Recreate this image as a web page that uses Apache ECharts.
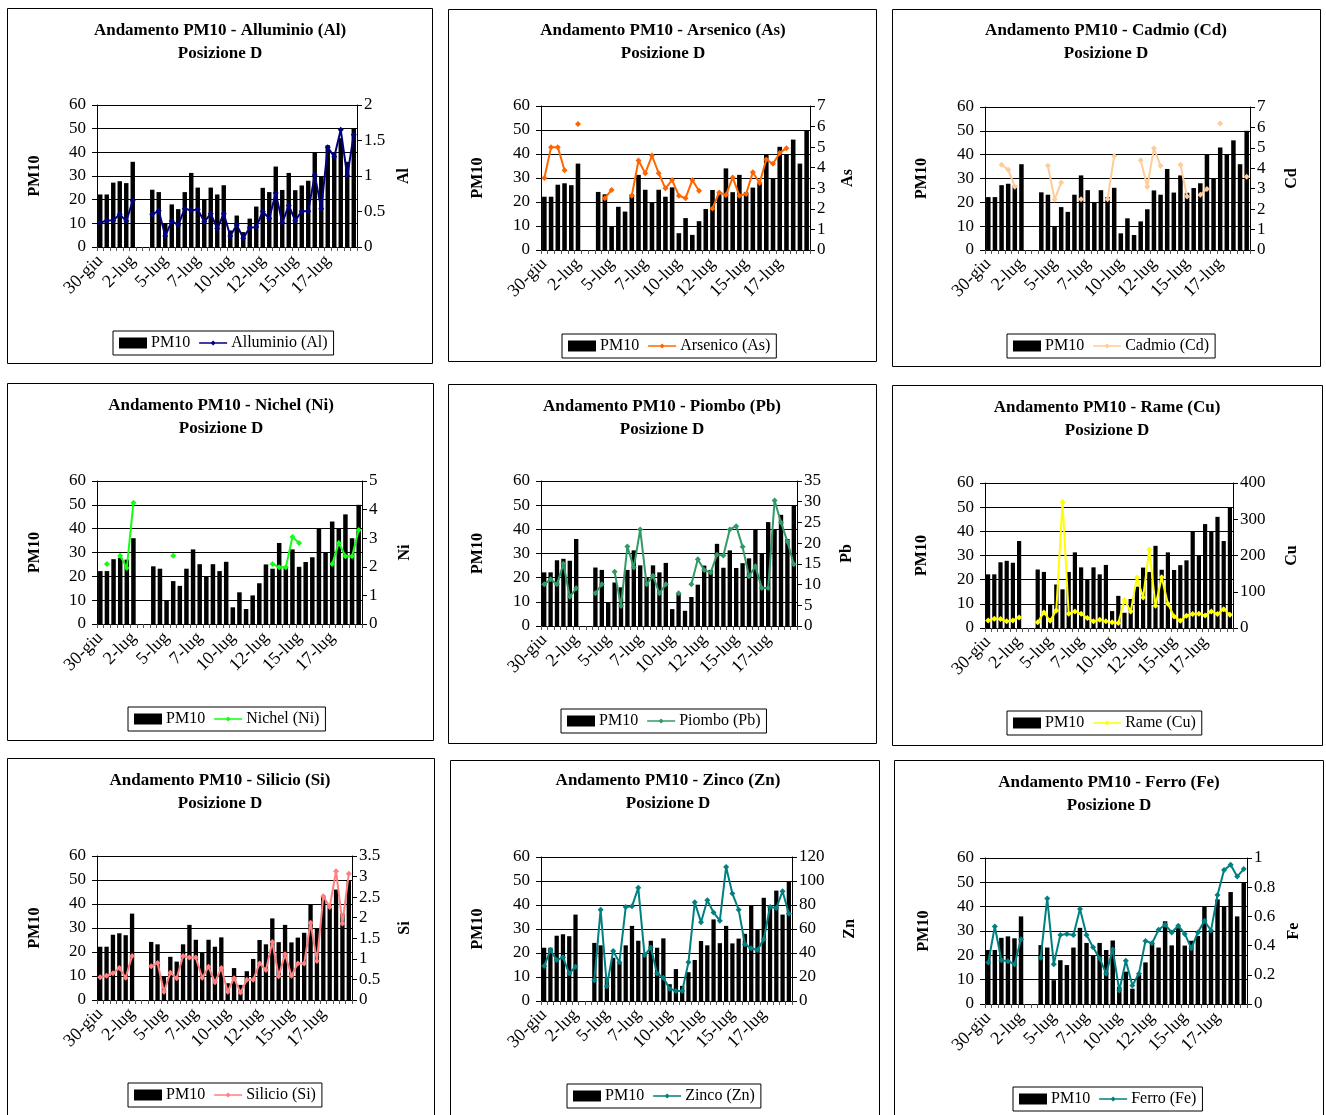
<!DOCTYPE html>
<html><head><meta charset="utf-8">
<script src="https://cdn.jsdelivr.net/npm/echarts@6/dist/echarts.min.js"></script>
<style>html,body{margin:0;padding:0;background:#fff;}#c{width:1326px;height:1115px;}</style>
</head><body><div id="c"></div>
<script>
// ---- data ----
const categories = ['30-giu','30-giu','1-lug','1-lug','2-lug','2-lug','3-lug','3-lug','4-lug','4-lug',
  '5-lug','5-lug','6-lug','6-lug','7-lug','7-lug','8-lug','8-lug','9-lug','9-lug',
  '10-lug','10-lug','11-lug','11-lug','12-lug','12-lug','13-lug','13-lug','14-lug','14-lug',
  '15-lug','15-lug','16-lug','16-lug','17-lug','17-lug','18-lug','18-lug','19-lug','19-lug'];
const pm10 = [22.2,22.2,27.2,27.8,27,36,null,null,24.2,23.2,9.8,18,16,23.2,31.3,25.1,20,25.1,22.2,26.1,7,13.3,6.3,12,17.1,25,23.2,34,24.1,31.3,24,26,28,40,30,43,40,46,36,50];
const alluminio = [0.34,0.375,0.375,0.46,0.365,0.65,null,null,0.46,0.51,0.155,0.365,0.31,0.54,0.515,0.53,0.355,0.47,0.26,0.47,0.155,0.31,0.125,0.27,0.28,0.5,0.4,0.76,0.34,0.585,0.37,0.505,0.505,1.015,0.54,1.405,1.27,1.65,1.0,1.58];
const arsenico = [3.5,5.0,5.0,3.88,null,6.12,null,null,null,2.52,2.92,null,null,2.64,4.35,3.73,4.59,3.73,3.0,3.4,2.64,2.52,3.4,2.88,null,2.02,2.8,2.67,3.53,2.64,2.72,3.78,3.26,4.4,4.19,4.72,4.95,null,null,null];
const cadmio = [null,null,4.17,3.93,3.1,null,null,null,null,4.12,2.47,3.31,null,null,2.49,null,null,null,2.49,4.6,null,null,null,4.39,3.1,4.98,4.12,null,null,4.17,2.62,null,2.71,2.99,null,6.19,null,null,null,3.59];
const nichel = [null,2.1,null,2.39,1.96,4.24,null,null,null,null,null,2.39,null,null,null,null,null,null,null,null,null,null,null,null,null,null,2.1,1.98,1.98,3.04,2.83,null,null,null,null,2.1,2.83,2.37,2.37,3.29];
const piombo = [10.05,11.3,10.05,15.0,7.05,9.1,null,null,7.9,10.05,null,13.1,4.8,19.2,14.1,23.3,10.05,12.1,7.9,10.05,null,7.9,null,10.05,16.1,13.5,12.9,17.2,17.0,23.3,24.1,19.1,12.0,14.4,9.2,9.2,30.3,25.0,20.4,14.9];
const rame = [21,25.6,24.7,18.3,21,29.3,null,null,15.6,43,20,48.5,347.7,39.3,45.7,39.3,27.4,18.3,22.9,18.3,15.6,13.7,77.8,45.7,139,84.2,216.8,61.3,140,66.8,32,20,33.9,38.4,39.3,34.8,45.7,38.4,52,36.6];
const silicio = [0.55,0.59,0.65,0.78,0.54,1.07,null,null,0.82,0.9,0.2,0.66,0.53,1.07,1.03,1.03,0.54,0.81,0.43,0.78,0.2,0.53,0.18,0.49,0.49,0.89,0.73,1.41,0.58,1.11,0.59,0.89,0.89,1.88,0.95,2.52,2.26,3.13,1.86,3.07];
const zinco = [29.1,42.5,34.1,36.4,22.9,28.5,null,null,17.3,76.1,12.3,41.7,32.2,78.3,78.9,94.3,38.3,44.5,22.9,19.3,10.3,8.4,8.4,32.2,82.2,65.7,83.9,73.8,66.9,111.6,89.5,76.1,47.3,43.9,42.5,51.5,78.3,77.5,91.5,72.7];
const ferro = [0.284,0.531,0.3,0.293,0.273,0.443,null,null,0.316,0.723,0.273,0.473,0.48,0.473,0.651,0.473,0.388,0.312,0.208,0.374,0.092,0.296,0.127,0.208,0.432,0.416,0.508,0.543,0.49,0.536,0.48,0.381,0.49,0.57,0.503,0.746,0.917,0.954,0.873,0.924];

const metalNames = ['Alluminio (Al)','Arsenico (As)','Cadmio (Cd)','Nichel (Ni)','Piombo (Pb)','Rame (Cu)','Silicio (Si)','Zinco (Zn)','Ferro (Fe)'];
const metalSymbols = ['Al','As','Cd','Ni','Pb','Cu','Si','Zn','Fe'];
const metalData = [alluminio, arsenico, cadmio, nichel, piombo, rame, silicio, zinco, ferro];
const rightMax = [2,7,7,5,35,400,3.5,120,1];
const rightInterval = [0.5,1,1,1,5,100,0.5,20,0.2];
const leftMax = 60, leftInterval = 10;

// ---- layout & style ----
const colors = ['#000080','#FF6600','#FFCC99','#11FF11','#339966','#FFFF00','#FF8080','#008080','#008080'];
const layout = [
 {box:[7,8,425,355],   grid:[97,105,260,142],  title:[220,31],  legend:[113,331],  ln:35,  rn:404},
 {box:[448,9,428,352], grid:[541,106,269,144], title:[663,31],  legend:[562,334],  ln:478, rn:848},
 {box:[892,9,428,357], grid:[985,107,265,143], title:[1106,31], legend:[1007,334], ln:922, rn:1292},
 {box:[7,383,426,357], grid:[97,481,265,143],  title:[221,406], legend:[128,707],  ln:35,  rn:405},
 {box:[448,384,428,359],grid:[541,481,256,145],title:[662,407], legend:[561,709],  ln:478, rn:847},
 {box:[892,385,430,360],grid:[985,483,248,145],title:[1107,408],legend:[1007,711], ln:922, rn:1292},
 {box:[7,758,427,360], grid:[97,856,255,144],  title:[220,781], legend:[128,1083], ln:35,  rn:405},
 {box:[450,760,429,360],grid:[541,857,251,144],title:[668,781], legend:[567,1084], ln:478, rn:850},
 {box:[894,760,429,360],grid:[985,858,262,146],title:[1109,783],legend:[1013,1087],ln:924, rn:1294}
];
const FONT = '"Liberation Serif","Times New Roman",serif';
const lineIcon = 'path://M0,3.2H13L15,1.2L17,3.2H30V4.8H17L15,6.8L13,4.8H0Z';

const grid = [], xAxis = [], yAxis = [], series = [], legend = [], graphic = [];
layout.forEach((L, i) => {
  const g = L.grid;
  grid.push({left:g[0], top:g[1], width:g[2], height:g[3], containLabel:false});
  const baseX = {type:'category', gridIndex:i, data:categories, boundaryGap:true};
  xAxis.push(Object.assign({}, baseX, {
    axisLine:{show:true, lineStyle:{color:'#000', width:1}},
    axisTick:{show:true, interval:0, length:4, lineStyle:{color:'#000'}},
    axisLabel:{interval:4, rotate:45, margin:11, color:'#000', fontSize:18, fontFamily:FONT},
    splitLine:{show:false}
  }));
  xAxis.push(Object.assign({}, baseX, {
    axisLine:{show:false},
    axisTick:{show:true, inside:true, interval:0, length:4, lineStyle:{color:'#555'}},
    axisLabel:{show:false}, splitLine:{show:false}
  }));
  yAxis.push({type:'value', gridIndex:i, position:'left', min:0, max:leftMax, interval:leftInterval,
    axisLine:{show:true, lineStyle:{color:'#000'}},
    axisTick:{show:true, length:5, lineStyle:{color:'#000'}},
    axisLabel:{color:'#000', fontSize:17, fontFamily:FONT, margin:11},
    splitLine:{show:true, lineStyle:{color:'#000', width:1}}});
  yAxis.push({type:'value', gridIndex:i, position:'right', min:0, max:rightMax[i], interval:rightInterval[i],
    axisLine:{show:true, lineStyle:{color:'#000'}},
    axisTick:{show:true, length:5, lineStyle:{color:'#000'}},
    axisLabel:{color:'#000', fontSize:17, fontFamily:FONT, margin:7},
    splitLine:{show:false}});
  series.push({type:'bar', name:'PM10', xAxisIndex:2*i, yAxisIndex:2*i, data:pm10,
    itemStyle:{color:'#000'}, barCategoryGap:'32%'});
  series.push({type:'line', name:metalNames[i], xAxisIndex:2*i, yAxisIndex:2*i+1, data:metalData[i],
    color:colors[i], lineStyle:{width:2, color:colors[i]}, itemStyle:{color:colors[i]},
    symbol:'diamond', symbolSize:6, showSymbol:true, showAllSymbol:true, connectNulls:false, z:5});
  legend.push({left:L.legend[0], top:L.legend[1], orient:'horizontal',
    data:[{name:'PM10', icon:'rect'}, {name:metalNames[i], icon:lineIcon}],
    itemWidth:28, itemHeight:11, itemGap:9, padding:[4,6,4,6],
    borderColor:'#000', borderWidth:1, selectedMode:false,
    textStyle:{color:'#000', fontSize:16, fontFamily:FONT, padding:[0,0,0,-1]}});
  const b = L.box;
  graphic.push({type:'rect', shape:{x:b[0]+0.5, y:b[1]+0.5, width:b[2], height:b[3]},
    style:{fill:'none', stroke:'#000', lineWidth:1}, silent:true});
  graphic.push({type:'text', x:L.title[0], y:L.title[1], silent:true,
    style:{text:'Andamento PM10 - ' + metalNames[i], align:'center', verticalAlign:'middle',
      font:'bold 17px ' + FONT, fill:'#000'}});
  graphic.push({type:'text', x:L.title[0], y:L.title[1] + 23, silent:true,
    style:{text:'Posizione D', align:'center', verticalAlign:'middle',
      font:'bold 17px ' + FONT, fill:'#000'}});
  graphic.push({type:'text', x:L.ln, y:g[1] + g[3]/2, rotation:Math.PI/2, silent:true,
    style:{text:'PM10', align:'center', verticalAlign:'middle', font:'bold 16px ' + FONT, fill:'#000'}});
  graphic.push({type:'text', x:L.rn, y:g[1] + g[3]/2, rotation:Math.PI/2, silent:true,
    style:{text:metalSymbols[i], align:'center', verticalAlign:'middle', font:'bold 16px ' + FONT, fill:'#000'}});
});

const chart = echarts.init(document.getElementById('c'), null, {renderer:'canvas'});
chart.setOption({animation:false, backgroundColor:'#fff', grid, xAxis, yAxis, series, legend, graphic});
</script>
</body></html>
